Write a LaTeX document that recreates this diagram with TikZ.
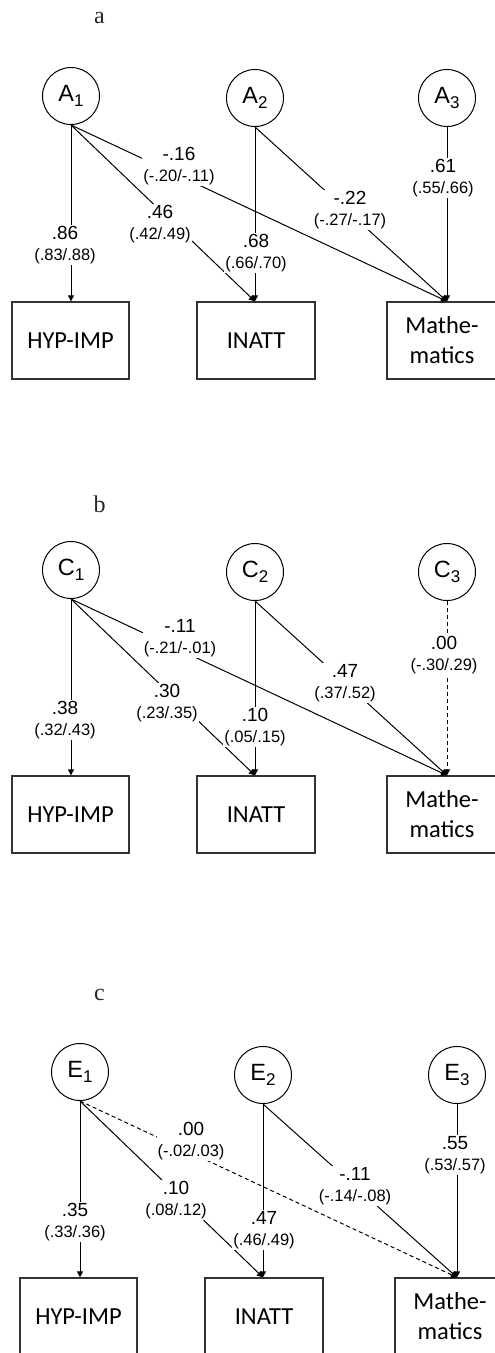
\documentclass[tikz,border=0pt]{standalone}
\usepackage{fontspec}
\setmainfont{Liberation Sans}
\newfontfamily\boxfont{Carlito}
\newfontfamily\letterfont{Liberation Serif}
\usetikzlibrary{arrows.meta}

% two-line path coefficient: estimate above, interval below
\newcommand\pathcoef[2]{{\fontsize{19}{20}\selectfont #1}\\{\fontsize{16.5}{18}\selectfont #2}}
% latent factor name with lowered index
\newcommand\latent[2]{{\fontsize{23.5}{24}\selectfont #1\raisebox{-5pt}{\fontsize{17}{18}\selectfont #2}}}

\tikzset{
  latentvar/.style={circle, draw, line width=1pt, minimum size=57pt, inner sep=0pt},
  obsvar/.style={rectangle, draw=black!80, line width=1.3pt, minimum height=77pt,
    inner sep=0pt, align=center, font=\boxfont\fontsize{24.5}{30}\selectfont},
  regpath/.style={line width=1pt, -{Triangle[length=6pt,width=6pt]}},
  nullpath/.style={regpath, dash pattern=on 4pt off 3pt},
  coeflabel/.style={fill=white, align=center, inner sep=1pt, font=\fontsize{16.5}{21.5}\selectfont},
  panelletter/.style={anchor=base, font=\letterfont\fontsize{24}{24}\selectfont, text=black!85}
}

\begin{document}
\begin{tikzpicture}[x=1pt, y=-1pt]
\useasboundingbox (0,0) rectangle (495,1353);
\clip (0,0) rectangle (495,1353);

% panel letters
\node[panelletter] (letA) at (99.5,23) {a};
\node[panelletter] (letB) at (99.5,512) {b};
\node[panelletter] (letC) at (99.5,1000) {c};

% ---------------- panel a ----------------
\begin{scope}
  \node[latentvar] (aL1) at (71,96) {\latent{A}{1}};
  \node[latentvar] (aL2) at (255,98) {\latent{A}{2}};
  \node[latentvar] (aL3) at (447,98) {\latent{A}{3}};
  \node[obsvar, minimum width=117pt] (aH) at (70.5,340.5) {HYP-IMP};
  \node[obsvar, minimum width=118pt] (aI) at (256,340.5) {INATT};
  \node[obsvar, minimum width=110pt] (aM) at (442,340.5) {Mathe-\\matics};

  \draw[regpath] (aL1.south) -- (aL1 |- aH.north);
  \draw[regpath] (aL1.south) -- (aL2 |- aI.north);
  \draw[regpath] (aL1.south) -- (aL3 |- aM.north);
  \draw[regpath] (aL2.south) -- (aL2 |- aI.north);
  \draw[regpath] (aL2.south) -- (aL3 |- aM.north);
  \draw[regpath] (aL3.south) -- (aL3 |- aM.north);

  \node[coeflabel] (aC11) at (65,245)  {\pathcoef{.86}{(.83/.88)}};
  \node[coeflabel] (aC12) at (160,224) {\pathcoef{.46}{(.42/.49)}};
  \node[coeflabel] (aC13) at (179,166) {\pathcoef{-.16}{(-.20/-.11)}};
  \node[coeflabel] (aC22) at (256,253) {\pathcoef{.68}{(.66/.70)}};
  \node[coeflabel] (aC23) at (350,210) {\pathcoef{-.22}{(-.27/-.17)}};
  \node[coeflabel] (aC33) at (443,178) {\pathcoef{.61}{(.55/.66)}};
\end{scope}

% ---------------- panel b ----------------
\begin{scope}[shift={(0,474)}]
  \node[latentvar] (bL1) at (71,96) {\latent{C}{1}};
  \node[latentvar] (bL2) at (255,98) {\latent{C}{2}};
  \node[latentvar] (bL3) at (447,98) {\latent{C}{3}};
  \node[obsvar, minimum width=117pt] (bH) at (70.5,340.5) {HYP-IMP};
  \node[obsvar, minimum width=118pt] (bI) at (256,340.5) {INATT};
  \node[obsvar, minimum width=110pt] (bM) at (442,340.5) {Mathe-\\matics};

  \draw[regpath] (bL1.south) -- (bL1 |- bH.north);
  \draw[regpath] (bL1.south) -- (bL2 |- bI.north);
  \draw[regpath] (bL1.south) -- (bL3 |- bM.north);
  \draw[regpath] (bL2.south) -- (bL2 |- bI.north);
  \draw[regpath] (bL2.south) -- (bL3 |- bM.north);
  \draw[nullpath] (bL3.south) -- (bL3 |- bM.north);

  \node[coeflabel] (bC11) at (65,246)  {\pathcoef{.38}{(.32/.43)}};
  \node[coeflabel] (bC12) at (167,229) {\pathcoef{.30}{(.23/.35)}};
  \node[coeflabel] (bC13) at (180,164) {\pathcoef{-.11}{(-.21/-.01)}};
  \node[coeflabel] (bC22) at (255,253) {\pathcoef{.10}{(.05/.15)}};
  \node[coeflabel] (bC23) at (345,209) {\pathcoef{.47}{(.37/.52)}};
  \node[coeflabel] (bC33) at (444,181) {\pathcoef{.00}{(-.30/.29)}};
\end{scope}

% ---------------- panel c ----------------
\begin{scope}[shift={(8,976)}]
  \node[latentvar] (cL1) at (72,96) {\latent{E}{1}};
  \node[latentvar] (cL2) at (255,99) {\latent{E}{2}};
  \node[latentvar] (cL3) at (449,99) {\latent{E}{3}};
  \node[obsvar, minimum width=117pt] (cH) at (70.5,340.5) {HYP-IMP};
  \node[obsvar, minimum width=118pt] (cI) at (256,340.5) {INATT};
  \node[obsvar, minimum width=110pt] (cM) at (442,340.5) {Mathe-\\matics};

  \draw[regpath] (cL1.south) -- (cL1 |- cH.north);
  \draw[regpath] (cL1.south) -- (cL2 |- cI.north);
  \draw[nullpath] (cL1.south) -- (cL3 |- cM.north);
  \draw[regpath] (cL2.south) -- (cL2 |- cI.north);
  \draw[regpath] (cL2.south) -- (cL3 |- cM.north);
  \draw[regpath] (cL3.south) -- (cL3 |- cM.north);

  \node[coeflabel] (cC11) at (67,246)  {\pathcoef{.35}{(.33/.36)}};
  \node[coeflabel] (cC12) at (168,224) {\pathcoef{.10}{(.08/.12)}};
  \node[coeflabel] (cC13) at (183,165) {\pathcoef{.00}{(-.02/.03)}};
  \node[coeflabel] (cC22) at (256,254) {\pathcoef{.47}{(.46/.49)}};
  \node[coeflabel] (cC23) at (347,210) {\pathcoef{-.11}{(-.14/-.08)}};
  \node[coeflabel] (cC33) at (447,179) {\pathcoef{.55}{(.53/.57)}};
\end{scope}
\end{tikzpicture}
\end{document}
